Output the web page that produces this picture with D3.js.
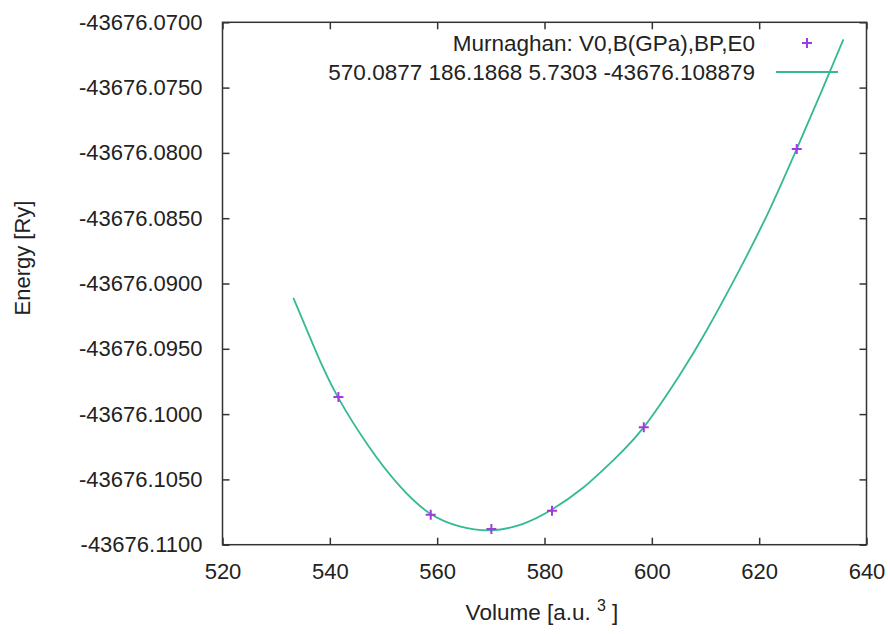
<!DOCTYPE html>
<html>
<head>
<meta charset="utf-8">
<script src="https://cdn.jsdelivr.net/npm/d3@7"></script>
<style>
  body { margin: 0; background: white; }
</style>
</head>
<body>
<div id="container"></div>
<script>
//colors to be used
let violet = "#a13ae0";
let teal = "#35b994";
let ink = "#333333";

// measured points (volume, energy)
let volumes = [541.6, 558.8, 570.1, 581.4, 598.5, 627.0];
let energies = [-43676.0987, -43676.1077, -43676.1088, -43676.1074, -43676.1010, -43676.0797];

// fitted Murnaghan curve
let fitVolumes = [533.2, 537.5, 541.5, 547.3, 553.0, 558.6, 564.2, 570.1, 576.0, 581.4, 587.0, 592.9, 598.5, 605.2, 610.2, 616.4, 622.0, 627.0, 631.5, 635.7];
let fitEnergies = [-43676.0911, -43676.0953, -43676.0987, -43676.1025, -43676.1055, -43676.1076, -43676.1086, -43676.1089, -43676.1084, -43676.1073, -43676.1057, -43676.1035, -43676.1010, -43676.0970, -43676.0936, -43676.0889, -43676.0843, -43676.0797, -43676.0754, -43676.0713];

let xTicks = [520, 540, 560, 580, 600, 620, 640];
let yTicks = [-43676.07, -43676.075, -43676.08, -43676.085, -43676.09, -43676.095, -43676.1, -43676.105, -43676.11];

let legendTitle = "Murnaghan: V0,B(GPa),BP,E0";
let legendFit = "570.0877 186.1868 5.7303 -43676.108879";

let plotLeft = 222.5, plotRight = 866.5, plotTop = 22.3, plotBottom = 544.7;

let viz = d3.select("#container")
  .append("svg")
    .attr("width", 890)
    .attr("height", 634)
    .style("background-color", "white")
    .style("font-family", "'Liberation Sans', Arial, sans-serif")
;

let x = d3.scaleLinear().domain([520, 640]).range([plotLeft, plotRight]);
let y = d3.scaleLinear().domain([-43676.11, -43676.07]).range([plotBottom, plotTop]);

// plain hyphen for the minus sign, like gnuplot
let yFormat = d => d.toFixed(4);

// axes, gnuplot style: ticks inside on all four sides
let tickLen = 7;
viz.append("g")
  .attr("transform", "translate(0," + plotBottom + ")")
  .call(d3.axisBottom(x).tickValues(xTicks).tickSize(-tickLen).tickPadding(tickLen + 12).tickFormat(d3.format("d")))
;
viz.append("g")
  .attr("transform", "translate(0," + plotTop + ")")
  .call(d3.axisTop(x).tickValues(xTicks).tickSize(-tickLen).tickFormat(""))
;
viz.append("g")
  .attr("transform", "translate(" + plotLeft + ",0)")
  .call(d3.axisLeft(y).tickValues(yTicks).tickSize(-tickLen).tickPadding(tickLen + 13).tickFormat(yFormat))
;
viz.append("g")
  .attr("transform", "translate(" + plotRight + ",0)")
  .call(d3.axisRight(y).tickValues(yTicks).tickSize(-tickLen).tickFormat(""))
;

viz.selectAll(".domain, .tick line")
  .attr("stroke", ink)
  .attr("stroke-width", 1.5)
;
viz.selectAll(".domain").attr("d", null);
viz.append("rect")
  .attr("x", plotLeft)
  .attr("y", plotTop)
  .attr("width", plotRight - plotLeft)
  .attr("height", plotBottom - plotTop)
  .attr("fill", "none")
  .attr("stroke", ink)
  .attr("stroke-width", 1.5)
;

viz.selectAll(".tick text")
  .attr("font-size", 22)
  .attr("font-family", "'Liberation Sans', Arial, sans-serif")
  .attr("fill", "#222")
;

// fitted curve
let line = d3.line()
  .x(d => x(d[0]))
  .y(d => y(d[1]))
  .curve(d3.curveNatural)
;
viz.append("path")
  .datum(d3.zip(fitVolumes, fitEnergies))
  .attr("d", line)
  .attr("fill", "none")
  .attr("stroke", teal)
  .attr("stroke-width", 1.8)
;

// points as plus signs
let plus = 5;
viz.selectAll(".pt")
  .data(d3.zip(volumes, energies))
  .join("path")
  .attr("class", "pt")
  .attr("d", d => "M" + (x(d[0]) - plus) + "," + y(d[1]) + "h" + (2 * plus) + "M" + x(d[0]) + "," + (y(d[1]) - plus) + "v" + (2 * plus))
  .attr("stroke", violet)
  .attr("stroke-width", 2)
;

// legend
viz.append("text")
  .text(legendTitle)
  .attr("x", 755)
  .attr("y", 51)
  .attr("text-anchor", "end")
  .attr("font-size", 22.5)
  .attr("fill", "#222")
;
viz.append("path")
  .attr("d", "M" + (807 - plus) + ",43h" + (2 * plus) + "M807," + (43 - plus) + "v" + (2 * plus))
  .attr("stroke", violet)
  .attr("stroke-width", 2)
;
viz.append("text")
  .text(legendFit)
  .attr("x", 755)
  .attr("y", 80)
  .attr("text-anchor", "end")
  .attr("font-size", 22.5)
  .attr("fill", "#222")
;
viz.append("line")
  .attr("x1", 776)
  .attr("x2", 838)
  .attr("y1", 72)
  .attr("y2", 72)
  .attr("stroke", teal)
  .attr("stroke-width", 1.8)
;

// axis titles
let xLabel = viz.append("text")
  .attr("x", 542)
  .attr("y", 620)
  .attr("text-anchor", "middle")
  .attr("font-size", 22.5)
  .attr("fill", "#222")
;
xLabel.append("tspan").text("Volume [a.u. ");
xLabel.append("tspan").text("3").attr("font-size", 16).attr("dy", -9);
xLabel.append("tspan").text(" ]").attr("dy", 9);

viz.append("text")
  .text("Energy [Ry]")
  .attr("transform", "translate(30,258) rotate(-90)")
  .attr("text-anchor", "middle")
  .attr("font-size", 22)
  .attr("fill", "#222")
;
</script>
</body>
</html>
